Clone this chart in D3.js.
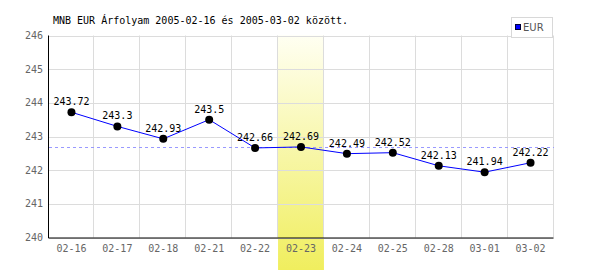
<!DOCTYPE html>
<html><head><meta charset="utf-8">
<script src="https://cdn.jsdelivr.net/npm/d3@7"></script>
<style>body{margin:0;background:#fff}</style>
</head><body>
<svg id="c" width="600" height="270"></svg>
<script>
const categories = ["02-16","02-17","02-18","02-21","02-22","02-23","02-24","02-25","02-28","03-01","03-02"];
const values = [243.72,243.3,242.93,243.5,242.66,242.69,242.49,242.52,242.13,241.94,242.22];
const valueLabels = ["243.72","243.3","242.93","243.5","242.66","242.69","242.49","242.52","242.13","241.94","242.22"];
const yTicks = [240,241,242,243,244,245,246];
const highlight = ["02-23"];
const refValue = [242.68];
const seriesName = ["EUR"];
const title = "MNB EUR Árfolyam 2005-02-16 és 2005-03-02 között.";

const svg = d3.select("#c");
const L = 48.5, R = 553.5, T = 35.5, B = 237.5;
const x = d3.scaleBand().domain(categories).range([L, R]).padding(0);
const y = d3.scaleLinear().domain([240, 246]).range([B, T]);
const mono = "'DejaVu Sans Mono', monospace";

const defs = svg.append("defs");
const g = defs.append("linearGradient").attr("id","hl").attr("x1",0).attr("y1",0).attr("x2",0).attr("y2",1);
g.append("stop").attr("offset","0%").attr("stop-color","#fffff2");
g.append("stop").attr("offset","100%").attr("stop-color","#f0ee5e");

// highlight band
svg.selectAll("rect.hl").data(highlight).join("rect")
  .attr("x", d => x(d)).attr("y", T).attr("width", x.bandwidth()).attr("height", 270 - T)
  .attr("fill","url(#hl)");

// grid horizontal
svg.selectAll("line.hg").data(yTicks).join("line")
  .attr("x1", L).attr("x2", R).attr("y1", d => Math.round(y(d)) + 0.5).attr("y2", d => Math.round(y(d)) + 0.5)
  .attr("stroke","#dcdcdc");
// grid vertical
svg.selectAll("line.vg").data(categories.slice(1).concat(["__end"])).join("line")
  .attr("x1", (d,i) => Math.round(L + x.step()*(i+1)) - 0.5).attr("x2", (d,i) => Math.round(L + x.step()*(i+1)) - 0.5)
  .attr("y1", T).attr("y2", B)
  .attr("stroke","#dcdcdc");

// axes
svg.append("line").attr("x1", L).attr("x2", L).attr("y1", T).attr("y2", B+0.5).attr("stroke","#000");
svg.append("line").attr("x1", L).attr("x2", R).attr("y1", B+0.5).attr("y2", B+0.5).attr("stroke","#000");

// y labels
svg.selectAll("text.yl").data(yTicks).join("text")
  .attr("x", 43).attr("y", d => y(d)).attr("dy","0.35em").attr("text-anchor","end")
  .attr("font-family", mono).attr("font-size", 10).attr("fill","#666").text(d => d);
// x labels
svg.selectAll("text.xl").data(categories).join("text")
  .attr("x", d => x(d) + x.bandwidth()/2).attr("y", 248).attr("dy","0.35em").attr("text-anchor","middle")
  .attr("font-family", mono).attr("font-size", 10).attr("fill","#666").text(d => d);

// ref dashed line
svg.selectAll("line.ref").data(refValue).join("line")
  .attr("x1", L).attr("x2", R).attr("y1", d => Math.round(y(d))+0.5).attr("y2", d => Math.round(y(d))+0.5)
  .attr("stroke","#9999ff").attr("stroke-dasharray","3,3").attr("shape-rendering","crispEdges");

// line
const line = d3.line().x((d,i) => x(categories[i]) + x.bandwidth()/2).y(d => y(d));
svg.append("path").datum(values).attr("d", line).attr("fill","none").attr("stroke","#0000ff").attr("stroke-width",1);

// dots
svg.selectAll("circle.pt").data(values).join("circle")
  .attr("cx", (d,i) => x(categories[i]) + x.bandwidth()/2).attr("cy", d => y(d)).attr("r", 4).attr("fill","#000");

// value labels
svg.selectAll("text.vl").data(values).join("text")
  .attr("x", (d,i) => x(categories[i]) + x.bandwidth()/2).attr("y", d => y(d) - 7)
  .attr("text-anchor","middle").attr("font-family", mono).attr("font-size", 10).attr("fill","#000")
  .text((d,i) => valueLabels[i]);

// title
svg.append("text").attr("x", 53).attr("y", 24).attr("font-family", mono).attr("font-size", 10).attr("fill","#000").text(title);

// legend
const lg = svg.append("g");
lg.append("rect").attr("x", 511.5).attr("y", 17.5).attr("width", 41).attr("height", 20).attr("fill","#fff").attr("stroke","#d8d8d8");
lg.append("rect").attr("x", 515.5).attr("y", 24.5).attr("width", 5).attr("height", 5).attr("fill","#0000ff").attr("stroke","#000033");
lg.append("text").attr("x", 523).attr("y", 27.5).attr("dy","0.35em").attr("font-family","'DejaVu Sans', sans-serif").attr("font-size", 10).attr("fill","#555").text(seriesName[0]);
</script>
</body></html>
